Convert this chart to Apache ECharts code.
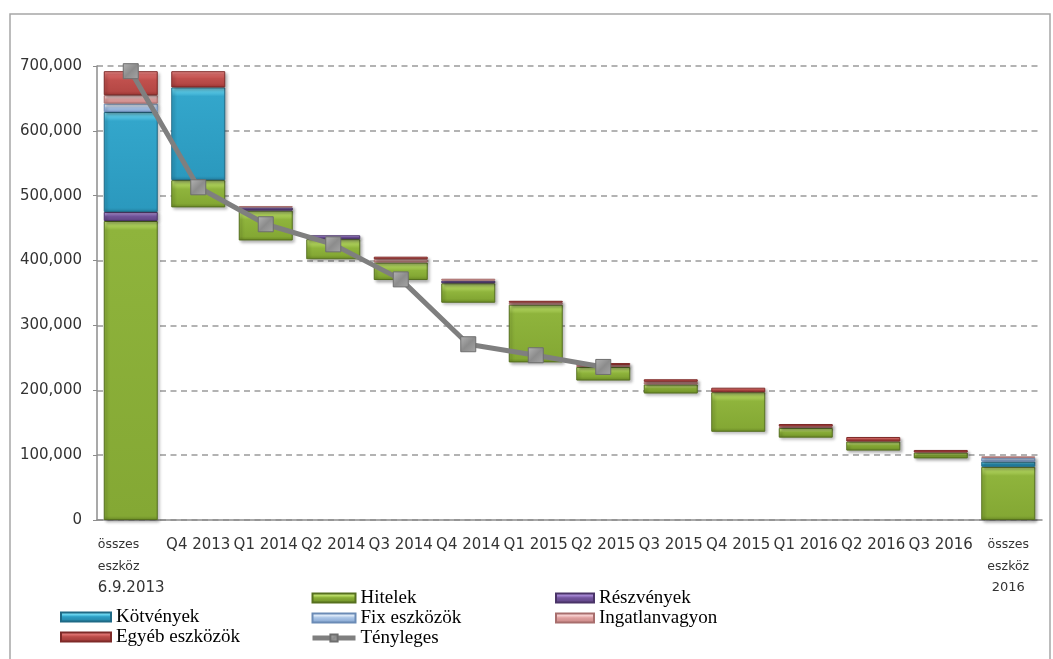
<!DOCTYPE html>
<html>
<head>
<meta charset="utf-8">
<script src="https://cdn.jsdelivr.net/npm/echarts@6/dist/echarts.min.js"></script>
<style>
  html, body { margin: 0; padding: 0; background: #fff; }
  #chart { width: 1053px; height: 659px; }
</style>
</head>
<body>
<div id="chart"></div>
<script>
// Quarterly asset run-down (waterfall) with the actual total as a line
const categories = ['összes eszköz 6.9.2013', 'Q4 2013', 'Q1 2014', 'Q2 2014', 'Q3 2014', 'Q4 2014',
  'Q1 2015', 'Q2 2015', 'Q3 2015', 'Q4 2015', 'Q1 2016', 'Q2 2016', 'Q3 2016', 'összes eszköz 2016'];

// invisible floor of each floating bar
const base       = [0, 482000, 431000, 402000, 370000, 335000, 243000, 215000, 195000, 136000, 127000, 107000, 95000, 0];
const hitelek    = [461000, 42000, 46000, 31000, 27000, 30000, 89000, 21000, 14000, 61000, 15000, 14000, 9000, 82000];
const reszvenyek = [14000, 0, 5000, 6000, 0, 4000, 0, 0, 0, 0, 0, 0, 0, 0];
const kotvenyek  = [154000, 143000, 0, 0, 0, 0, 0, 0, 0, 0, 0, 0, 0, 8000];
const fixEszk    = [13000, 0, 0, 0, 0, 0, 0, 0, 0, 0, 0, 0, 0, 6000];
const ingatlan   = [13000, 0, 2000, 0, 5000, 3000, 3000, 3000, 4000, 0, 2000, 0, 0, 2000];
const egyeb      = [37000, 25000, 0, 0, 4000, 0, 3000, 3000, 4000, 7000, 4000, 7000, 4000, 0];
const tenyleges  = [692000, 513000, 456000, 425000, 371000, 271000, 254000, 236000, null, null, null, null, null, null];

const yTicks = { min: 0, max: 700000, step: 100000 };

// plot height in px, used to keep the bevel band a constant thickness
const PLOT_H = 454;

const chart = echarts.init(document.getElementById('chart'), null, { renderer: 'canvas' });

function bevelFill(c, h) {
  const a = Math.min(0.3, 3 / h), b = Math.min(0.45, 9 / h), d = Math.max(0.55, 1 - 4 / h);
  return new echarts.graphic.LinearGradient(0, 0, 0, 1, [
    { offset: 0, color: c.light },
    { offset: a, color: c.hi },
    { offset: b, color: c.main },
    { offset: d, color: c.main2 },
    { offset: 1, color: c.dark }
  ]);
}

function seg(name, data, c) {
  return {
    name: name,
    type: 'bar',
    stack: 'w',
    barWidth: '80%',
    itemStyle: {
      color: bevelFill(c, 9),
      borderColor: c.border,
      borderWidth: 1,
      shadowColor: 'rgba(0,0,0,0.3)',
      shadowBlur: 3,
      shadowOffsetX: 2,
      shadowOffsetY: 2
    },
    data: data.map(v => {
      if (!v) return '-';
      const h = Math.max(1, v / yTicks.max * PLOT_H);
      return { value: v, itemStyle: { color: bevelFill(c, h) } };
    }),
    emphasis: { disabled: true }
  };
}

const fmtThousands = v => String(v).replace(/\B(?=(\d{3})+(?!\d))/g, ',');

const legendText = { fontFamily: 'Liberation Serif', fontSize: 19, color: '#000', lineHeight: 20 };

const cGreen  = { light: '#d2ea8c', hi: '#b5d862', main: '#8fb43c', main2: '#84a834', dark: '#6b8a26', border: '#56701f' };
const cPurple = { light: '#c2a6ea', hi: '#9f80cd', main: '#7b5ca6', main2: '#6f5298', dark: '#5d4282', border: '#4a3468' };
const cTeal   = { light: '#95e9f8', hi: '#62d0ec', main: '#33a6cb', main2: '#2b99be', dark: '#237fa0', border: '#1f6a86' };
const cFix    = { light: '#f2f8fe', hi: '#d8e6f7', main: '#b0c9e8', main2: '#a3bfe3', dark: '#7f9fcb', border: '#6b8bb6' };
const cPink   = { light: '#fee6e5', hi: '#f5caca', main: '#e4a8a7', main2: '#da9b9a', dark: '#c98685', border: '#a86e6d' };
const cRed    = { light: '#ee9593', hi: '#d96b69', main: '#c0504d', main2: '#b54845', dark: '#9c3634', border: '#7e2a28' };

const option = {
  animation: false,
  backgroundColor: '#fff',
  graphic: [{
    type: 'rect',
    shape: { x: 10, y: 14, width: 1040, height: 700 },
    style: { fill: 'none', stroke: '#a6a6a6', lineWidth: 1.5 },
    silent: true
  }],
  grid: { left: 97, right: 11, top: 66, bottom: 139, containLabel: false },
  legend: [
    {
      orient: 'vertical', left: 60, top: 607, padding: 0, itemGap: 0,
      itemWidth: 50, itemHeight: 9, textStyle: legendText,
      data: [{ name: 'Kötvények', icon: 'rect' }, { name: 'Egyéb eszközök', icon: 'rect' }]
    },
    {
      orient: 'vertical', left: 310, top: 588, padding: 0, itemGap: 0,
      itemWidth: 43, itemHeight: 9, textStyle: legendText,
      data: [
        { name: 'Hitelek', icon: 'rect' },
        { name: 'Fix eszközök', icon: 'rect' },
        { name: 'Tényleges', lineStyle: { width: 5, color: '#7f7f7f' } }
      ]
    },
    {
      orient: 'vertical', left: 555, top: 588, padding: 0, itemGap: 0,
      itemWidth: 38, itemHeight: 9, textStyle: legendText,
      data: [{ name: 'Részvények', icon: 'rect' }, { name: 'Ingatlanvagyon', icon: 'rect' }]
    }
  ],
  xAxis: {
    type: 'category',
    data: categories,
    axisLine: { show: true, lineStyle: { color: '#8c8c8c', width: 1.5 } },
    axisTick: { show: false },
    splitLine: { show: false },
    axisLabel: {
      interval: 0,
      margin: 14,
      color: '#333',
      fontFamily: 'DejaVu Sans',
      fontSize: 15,
      lineHeight: 21.5,
      hideOverlap: false,
      formatter: function (v, i) {
        const parts = v.split(' ');
        if (parts[0] === 'összes') {
          if (i === 0) {
            return '{l|' + parts[0] + '}\n{l|' + parts[1] + '}\n{ld|' + parts[2] + '}';
          }
          return '{s|' + parts[0] + '}\n{s|' + parts[1] + '}\n{d|' + parts[2] + '}';
        }
        return v;
      },
      rich: {
        l: { fontFamily: 'DejaVu Sans', fontSize: 12.5, color: '#333', width: 66, align: 'left', lineHeight: 21.5 },
        ld: { fontFamily: 'DejaVu Sans', fontSize: 15, color: '#333', width: 66, align: 'left', lineHeight: 21.5 },
        s: { fontFamily: 'DejaVu Sans', fontSize: 12.5, color: '#333', lineHeight: 21.5 },
        d: { fontFamily: 'DejaVu Sans', fontSize: 13, color: '#333', lineHeight: 21.5 }
      }
    }
  },
  yAxis: {
    type: 'value',
    min: yTicks.min,
    max: yTicks.max,
    interval: yTicks.step,
    axisLine: { show: true, lineStyle: { color: '#8c8c8c', width: 1.5 } },
    axisTick: { show: true, length: 4, lineStyle: { color: '#8c8c8c' } },
    axisLabel: {
      margin: 15,
      color: '#333',
      fontFamily: 'DejaVu Sans',
      fontSize: 15,
      formatter: fmtThousands
    },
    splitLine: { show: true, lineStyle: { color: '#9a9a9a', width: 1.5, type: [6, 4.5] } }
  },
  series: [
    {
      name: 'base', type: 'bar', stack: 'w', barWidth: '80%', silent: true,
      data: base, itemStyle: { color: 'rgba(0,0,0,0)' }
    },
    seg('Hitelek', hitelek, cGreen),
    seg('Részvények', reszvenyek, cPurple),
    seg('Kötvények', kotvenyek, cTeal),
    seg('Fix eszközök', fixEszk, cFix),
    seg('Ingatlanvagyon', ingatlan, cPink),
    seg('Egyéb eszközök', egyeb, cRed),
    {
      name: 'Tényleges',
      type: 'line',
      data: tenyleges,
      connectNulls: false,
      z: 5,
      symbol: 'rect',
      symbolSize: 15,
      lineStyle: { color: '#7f7f7f', width: 5 },
      itemStyle: {
        color: new echarts.graphic.LinearGradient(0, 0, 1, 1, [
          { offset: 0, color: '#b4b4b4' },
          { offset: 0.5, color: '#8c8c8c' },
          { offset: 1, color: '#a6a6a6' }
        ]),
        borderColor: '#6e6e6e',
        borderWidth: 1
      },
      emphasis: { disabled: true }
    }
  ]
};

chart.setOption(option);
</script>
</body>
</html>
